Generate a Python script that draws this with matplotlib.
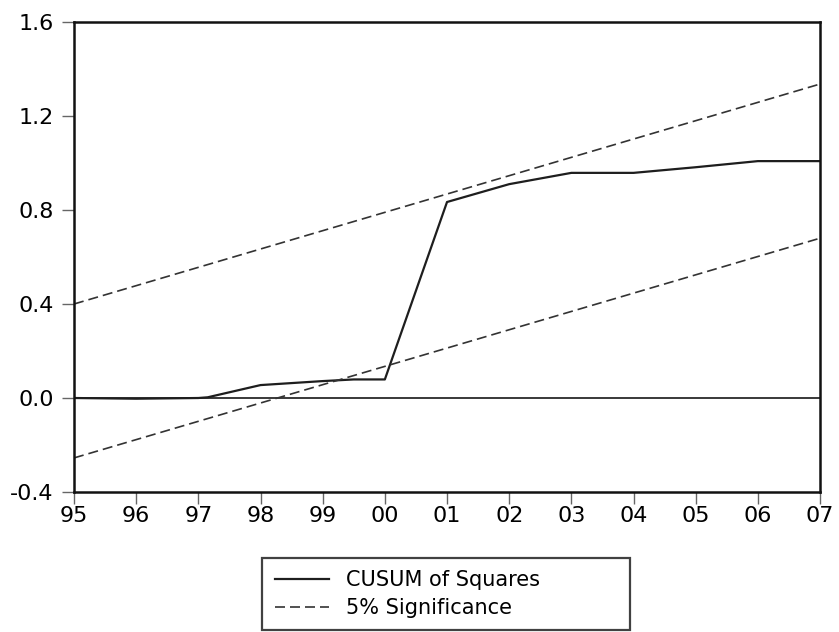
import numpy as np
import matplotlib.pyplot as plt

plt.rcParams['font.family'] = ['DejaVu Sans']

# CUSUM of squares
years = [1995, 1996, 1997, 1997.15, 1998, 1999, 1999.5, 2000, 2001, 2002, 2003, 2004, 2005, 2006, 2007]
cusum = [0.0, -0.003, 0.0, 0.003, 0.055, 0.072, 0.079, 0.079, 0.834, 0.91, 0.958, 0.958, 0.982, 1.008, 1.008]

# 5% significance bounds (straight lines, endpoints)
band_x = [1995, 2007]
upper = [0.40, 1.336]
lower = [-0.255, 0.68]

tick_years = list(range(1995, 2008))
tick_labels = ['%02d' % (y % 100) for y in tick_years]
yticks = [-0.4, 0.0, 0.4, 0.8, 1.2, 1.6]

fig = plt.figure(figsize=(8.39, 6.32), dpi=100)
ax = fig.add_axes([0.0882, 0.2215, 0.8892, 0.7437])

ax.axhline(0, color='#2a2a2a', lw=1.3)
l1, = ax.plot(years, cusum, color='#1e1e1e', lw=1.6, label='CUSUM of Squares')
l2, = ax.plot(band_x, upper, color='#333333', lw=1.2, ls=(0, (6, 3)), label='5% Significance')
ax.plot(band_x, lower, color='#333333', lw=1.2, ls=(0, (6, 3)))

ax.set_xlim(1995, 2007)
ax.set_ylim(-0.4, 1.6)
ax.set_xticks(tick_years)
ax.set_xticklabels(tick_labels)
ax.set_yticks(yticks)
ax.set_yticklabels(['%.1f' % v for v in yticks])
ax.tick_params(labelsize=16, direction='out', length=8.5, width=1, color='#666666')
ax.tick_params(axis='x', pad=1.5)
ax.tick_params(axis='y', pad=6)

for s in ax.spines.values():
    s.set_linewidth(1.8)
    s.set_color('#111111')

leg = fig.legend(handles=[l1, l2], loc='upper left',
                 bbox_to_anchor=(262 / 839, 1 - 630 / 632, 368 / 839, 72 / 632),
                 mode='expand', fontsize=15, frameon=True, fancybox=False,
                 handlelength=2.6, borderpad=0.6, labelspacing=0.35,
                 handletextpad=0.85, borderaxespad=0)
leg.get_frame().set_edgecolor('#111111')
leg.get_frame().set_linewidth(1.6)

fig.savefig('out.png', dpi=100)
